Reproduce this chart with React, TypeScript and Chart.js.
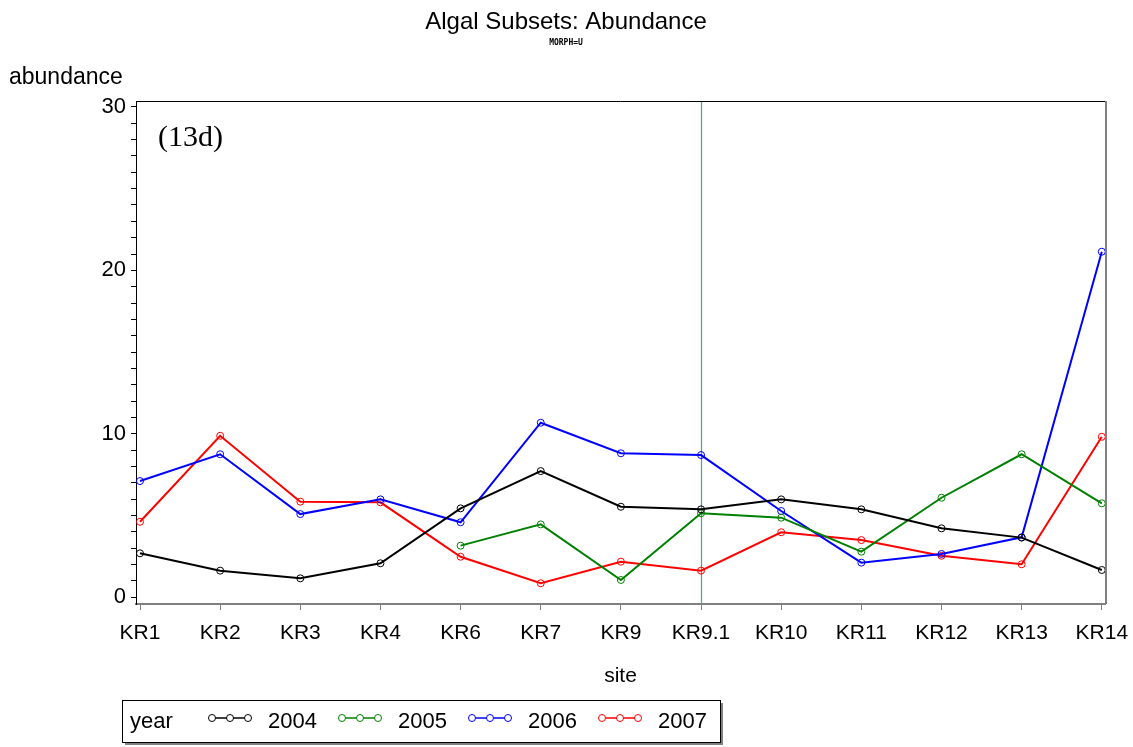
import React, { useEffect, useRef } from "react";
import { Chart, registerables } from "chart.js";

Chart.register(...registerables);

const sites = ["KR1", "KR2", "KR3", "KR4", "KR6", "KR7", "KR9", "KR9.1", "KR10", "KR11", "KR12", "KR13", "KR14"];
const years = ["2004", "2005", "2006", "2007"];
const colors = ["#000000", "#008000", "#0000ff", "#ff0000"];

const y2004 = [2.69, 1.63, 1.16, 2.08, 5.44, 7.72, 5.54, 5.38, 5.99, 5.38, 4.22, 3.65, 1.67];
const y2005 = [null, null, null, null, 3.16, 4.46, 1.06, 5.14, 4.87, 2.79, 6.09, 8.75, 5.75];
const y2006 = [7.11, 8.75, 5.09, 5.99, 4.59, 10.68, 8.81, 8.7, 5.28, 2.12, 2.65, 3.67, 21.14];
const y2007 = [4.62, 9.88, 5.85, 5.81, 2.48, 0.86, 2.18, 1.63, 3.98, 3.5, 2.54, 2.02, 9.82];

const yTickLabels = [0, 10, 20, 30];
const refSite = "KR9.1";

const FONT = '"Liberation Sans", Arial, sans-serif';

export default function App() {
  const ref = useRef<HTMLCanvasElement>(null);

  useEffect(() => {
    if (!ref.current) return;
    const series = [y2004, y2005, y2006, y2007];
    const datasets = series.map((vals, k) => ({
      label: years[k],
      data: vals
        .map((v, i) => (v === null ? null : { x: i, y: v }))
        .filter((p) => p !== null),
      borderColor: colors[k],
      backgroundColor: "rgba(255,255,255,0)",
      pointBorderColor: colors[k],
      pointBackgroundColor: "rgba(255,255,255,0)",
      pointRadius: 3.5,
      pointBorderWidth: 1,
      borderWidth: 2,
      tension: 0,
    }));

    const decor = {
      id: "decor",
      beforeDatasetsDraw(chart: any) {
        const { ctx, chartArea, scales } = chart;
        const xr = scales.x.getPixelForValue(sites.indexOf(refSite));
        ctx.save();
        ctx.strokeStyle = "#3aae7c";
        ctx.lineWidth = 1.2;
        ctx.beginPath();
        ctx.moveTo(Math.round(xr) + 0.5, chartArea.top);
        ctx.lineTo(Math.round(xr) + 0.5, chartArea.bottom);
        ctx.stroke();
        // frame top and right
        ctx.strokeStyle = "#000";
        ctx.lineWidth = 1;
        ctx.beginPath();
        ctx.moveTo(chartArea.left, chartArea.top + 0.5);
        ctx.lineTo(chartArea.right, chartArea.top + 0.5);
        ctx.stroke();
        ctx.strokeStyle = "#808080";
        ctx.lineWidth = 2;
        ctx.beginPath();
        ctx.moveTo(chartArea.right + 1, chartArea.top);
        ctx.lineTo(chartArea.right + 1, chartArea.bottom);
        ctx.stroke();
        ctx.restore();
      },
      afterDraw(chart: any) {
        const { ctx, chartArea } = chart;
        ctx.save();
        ctx.fillStyle = "#000";
        ctx.textBaseline = "alphabetic";
        ctx.textAlign = "center";
        ctx.font = "24px " + FONT;
        ctx.fillText("Algal Subsets: Abundance", 566, 29);
        ctx.font = 'bold 8px "DejaVu Sans Mono", monospace';
        ctx.fillText("MORPH=U", 566, 45);
        ctx.font = "21px " + FONT;
        ctx.fillText("site", (chartArea.left + chartArea.right) / 2, 682);
        ctx.textAlign = "left";
        ctx.font = "23px " + FONT;
        ctx.fillText("abundance", 9, 84);
        ctx.font = '30px "Liberation Serif", "Times New Roman", serif';
        ctx.fillText("(13d)", 158, 146);

        // legend
        const lx = 122, ly = 700, lw = 598, lh = 42;
        ctx.fillStyle = "#808080";
        ctx.fillRect(lx + 3, ly + 3, lw, lh);
        ctx.fillStyle = "#fff";
        ctx.fillRect(lx, ly, lw, lh);
        ctx.strokeStyle = "#000";
        ctx.lineWidth = 1;
        ctx.strokeRect(lx + 0.5, ly + 0.5, lw, lh);
        ctx.fillStyle = "#000";
        ctx.font = "22px " + FONT;
        const cy = ly + lh / 2;
        ctx.textBaseline = "middle";
        ctx.fillText("year", 130, cy + 1);
        const sx = [212, 342, 472, 602];
        years.forEach((yr, k) => {
          const x0 = sx[k];
          const yy = cy - 3;
          ctx.strokeStyle = colors[k];
          ctx.lineWidth = 1.5;
          ctx.beginPath();
          ctx.moveTo(x0, yy);
          ctx.lineTo(x0 + 36, yy);
          ctx.stroke();
          ctx.lineWidth = 1;
          [0, 18, 36].forEach((dx) => {
            ctx.beginPath();
            ctx.arc(x0 + dx, yy, 3.5, 0, Math.PI * 2);
            ctx.fillStyle = "#fff";
            ctx.fill();
            ctx.stroke();
          });
          ctx.fillStyle = "#000";
          ctx.fillText(yr, x0 + 56, cy + 1);
        });
        ctx.restore();
      },
    };

    const chart = new Chart(ref.current, {
      type: "line",
      data: { datasets: datasets as any },
      options: {
        animation: false,
        responsive: false,
        maintainAspectRatio: false,
        layout: { padding: { top: 101, right: 28, bottom: 0, left: 0 } },
        plugins: { legend: { display: false }, tooltip: { enabled: false }, title: { display: false } },
        scales: {
          x: {
            type: "linear",
            min: -0.05,
            max: 12.04,
            afterBuildTicks: (s: any) => {
              s.ticks = sites.map((_, i) => ({ value: i }));
            },
            afterFit: (s: any) => {
              s.height = 143;
              s.paddingLeft = 0;
              s.paddingRight = 0;
            },
            ticks: {
              autoSkip: false,
              maxRotation: 0,
              color: "#000",
              font: { family: FONT, size: 21 },
              padding: 11,
              callback: (v: any) => sites[v as number] ?? "",
            },
            grid: { drawOnChartArea: false, drawTicks: true, tickLength: 6, color: "#808080" },
            border: { display: true, color: "#808080", width: 2 },
          },
          y: {
            type: "linear",
            min: -0.41,
            max: 30.36,
            afterBuildTicks: (s: any) => {
              const t = [];
              for (let v = 0; v <= 30; v++) t.push({ value: v });
              s.ticks = t;
            },
            afterFit: (s: any) => {
              s.width = 136;
              s.paddingTop = 0;
              s.paddingBottom = 0;
            },
            ticks: {
              autoSkip: false,
              color: "#000",
              font: { family: FONT, size: 22 },
              padding: 5,
              callback: (v: any) => (yTickLabels.includes(v as number) ? String(v) : ""),
            },
            grid: { drawOnChartArea: false, drawTicks: true, tickLength: 5, color: "#000" },
            border: { display: true, color: "#000", width: 1 },
          },
        },
      },
      plugins: [decor],
    });
    return () => chart.destroy();
  }, []);

  return (
    <div style={{ position: "absolute", left: 0, top: 0, width: 1133, height: 747, background: "#fff" }}>
      <canvas ref={ref} width={1133} height={747} style={{ display: "block", width: 1133, height: 747 }} />
    </div>
  );
}
